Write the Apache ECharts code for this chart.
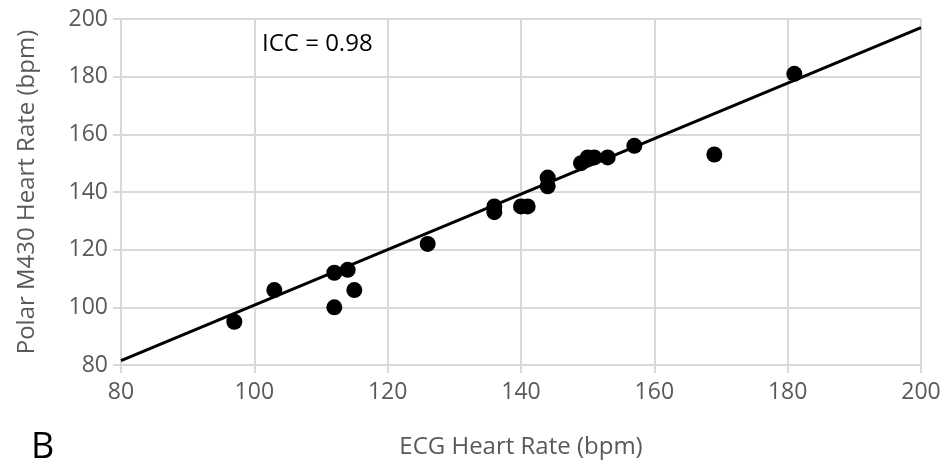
<!DOCTYPE html>
<html>
<head>
<meta charset="utf-8">
<script src="https://cdn.jsdelivr.net/npm/echarts@6/dist/echarts.min.js"></script>
<style>
  html, body { margin: 0; padding: 0; background: #fff; }
  #chart { width: 947px; height: 474px; }
</style>
</head>
<body>
<div id="chart"></div>
<script>
// ECG vs Polar M430 heart rate
const ecgRate = [97, 103, 112, 114, 112, 115, 126, 136, 136, 140, 141, 144, 144, 149, 150, 151, 153, 157, 169, 181];
const polarRate = [95, 106, 112, 113, 100, 106, 122, 135, 133, 135, 135, 145, 142, 150, 152, 152, 152, 156, 153, 181];
// linear trend line end points
const trendX = [80, 200];
const trendY = [81.5, 197];
const tickValues = [80, 100, 120, 140, 160, 180, 200];

const font = 'Open Sans';
const grey = '#595959';

let points = ecgRate.map((x, i) => [x, polarRate[i]]);
let trend = trendX.map((x, i) => [x, trendY[i]]);

let chart = echarts.init(document.getElementById('chart'));
let axisCommon = {
    type: 'value',
    min: tickValues[0],
    max: tickValues[tickValues.length - 1],
    interval: 20,
    axisLine: {show: true, lineStyle: {color: '#d9d9d9', width: 2}},
    axisTick: {show: true, length: 8, lineStyle: {color: '#d9d9d9', width: 2}},
    splitLine: {show: true, lineStyle: {color: '#d9d9d9', width: 2}},
    axisLabel: {color: grey, fontFamily: font, fontSize: 23},
    nameLocation: 'middle',
    nameTextStyle: {color: grey, fontFamily: font, fontSize: 24}
};

let option = {
    animation: false,
    grid: {left: 121, right: 26, top: 19, bottom: 109},
    xAxis: Object.assign({}, axisCommon, {
        name: 'ECG Heart Rate (bpm)',
        nameGap: 70,
        axisLabel: Object.assign({}, axisCommon.axisLabel, {margin: 16})
    }),
    yAxis: Object.assign({}, axisCommon, {
        name: 'Polar M430 Heart Rate (bpm)',
        nameGap: 82,
        axisLabel: Object.assign({}, axisCommon.axisLabel, {margin: 13})
    }),
    graphic: [
        {type: 'text', left: 262, top: 32, style: {text: 'ICC = 0.98', fill: '#000', font: '24px "Open Sans"'}},
        {type: 'text', left: 31, top: 430, style: {text: 'B', fill: '#000', font: '36px "Open Sans"'}}
    ],
    series: [
        {
            type: 'line',
            data: trend,
            symbol: 'none',
            lineStyle: {color: '#000', width: 3},
            z: 2
        },
        {
            type: 'scatter',
            data: points,
            symbolSize: 16,
            itemStyle: {color: '#000', opacity: 1},
            z: 3
        }
    ]
};
chart.setOption(option);
</script>
</body>
</html>
